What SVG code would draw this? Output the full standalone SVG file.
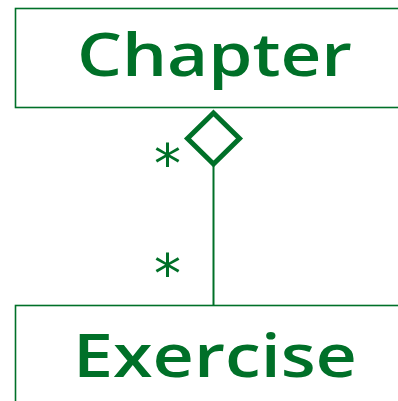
<svg xmlns="http://www.w3.org/2000/svg" width="398" height="401" viewBox="0 0 398 401">
<style>
.box{fill:none;stroke:#007028;stroke-width:1.6}
.lbl{font-family:"Open Sans","DejaVu Sans",sans-serif;font-weight:600;fill:#007028;font-size:59px}
.mult{font-family:"DejaVu Sans",sans-serif;fill:#007028;font-size:54px}
.conn{fill:none;stroke:#007028;stroke-width:2}
</style>
<rect width="398" height="401" fill="#fff"/>
<g id="chapter">
<rect class="box" x="15.5" y="8.5" width="400" height="99"/>
<text class="lbl" x="214.5" y="75.5" text-anchor="middle" textLength="275" lengthAdjust="spacingAndGlyphs">Chapter</text>
</g>
<g id="exercise">
<rect class="box" x="15.5" y="305.5" width="400" height="120"/>
<text class="lbl" x="215" y="377" text-anchor="middle" textLength="284" lengthAdjust="spacingAndGlyphs">Exercise</text>
</g>
<g id="connectors">
<line class="conn" x1="213.5" y1="164" x2="213.5" y2="305"/>
<polygon points="213.5,113 239.5,138.5 213.5,164 187.5,138.5" fill="#fff" stroke="#007028" stroke-width="5" stroke-linejoin="miter"/>
<text class="mult" x="167.5" y="182" text-anchor="middle">*</text>
<text class="mult" x="167.5" y="292" text-anchor="middle">*</text>
</g>
</svg>
